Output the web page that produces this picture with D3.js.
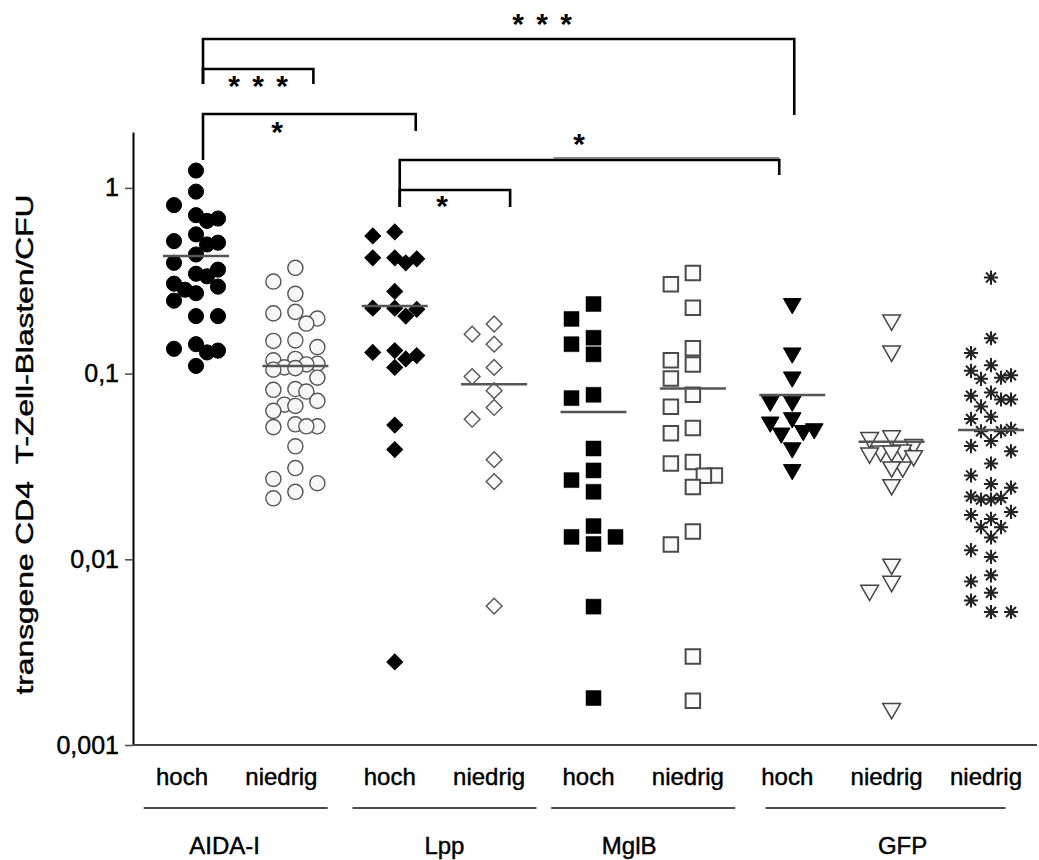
<!DOCTYPE html>
<html>
<head>
<meta charset="utf-8">
<script src="https://cdn.jsdelivr.net/npm/d3@7"></script>
<style>
  html, body { margin: 0; padding: 0; background: #fff; }
  svg { display: block; font-family: "Liberation Sans", Arial, Helvetica, sans-serif; }
  .lbl { stroke: #000; stroke-width: 0.45px; }
</style>
</head>
<body>
<svg id="chart" width="1039" height="860"></svg>
<script>
// ---- data -------------------------------------------------------------
const categories = ["AIDA-I hoch", "AIDA-I niedrig", "Lpp hoch", "Lpp niedrig",
                    "MglB hoch", "MglB niedrig", "GFP hoch", "GFP niedrig", "GFP niedrig 2"];
const categoryLabels = ["hoch", "niedrig", "hoch", "niedrig", "hoch", "niedrig", "hoch", "niedrig", "niedrig"];
const groupNames = ["AIDA-I", "Lpp", "MglB", "GFP"];
const groupMembers = [[0, 1], [2, 3], [4, 5], [6, 7, 8]];

const aidaHoch = [1.24, 0.955, 0.808, 0.713, 0.664, 0.684, 0.562, 0.517, 0.496, 0.507, 0.438,
                  0.395, 0.345, 0.363, 0.334, 0.305, 0.283, 0.294, 0.271, 0.247, 0.204, 0.204,
                  0.133, 0.144, 0.136, 0.130, 0.110];
const aidaNiedrig = [0.371, 0.313, 0.269, 0.211, 0.215, 0.198, 0.186, 0.150, 0.151, 0.139,
                     0.120, 0.118, 0.113, 0.112, 0.107, 0.108, 0.105, 0.095, 0.0826, 0.080, 0.0818,
                     0.0713, 0.063, 0.068, 0.067, 0.052, 0.0515, 0.0533, 0.052, 0.0406,
                     0.031, 0.0271, 0.0257, 0.0231, 0.0213];
const lppHoch = [0.579, 0.551, 0.42, 0.395, 0.42, 0.415, 0.277, 0.225, 0.204, 0.225, 0.222,
                 0.130, 0.120, 0.108, 0.133, 0.125, 0.0528, 0.039, 0.0028];
const lppNiedrig = [0.185, 0.163, 0.144, 0.108, 0.0964, 0.0809, 0.0657, 0.0568, 0.0344, 0.0262, 0.0056];
const mglbHoch = [0.237, 0.197, 0.156, 0.144, 0.127, 0.0769, 0.0738, 0.0395, 0.0301, 0.0267,
                  0.0231, 0.0151, 0.0132, 0.0132, 0.0121, 0.00556, 0.00179];
const mglbNiedrig = [0.348, 0.303, 0.226, 0.137, 0.118, 0.112, 0.094, 0.0769, 0.0662, 0.051,
                     0.0478, 0.0328, 0.0334, 0.0283, 0.0282, 0.0245, 0.0141, 0.012, 0.0030, 0.00173];
const gfpHoch = [0.238, 0.129, 0.0958, 0.071, 0.071, 0.0578, 0.0548, 0.0493, 0.0478, 0.0504,
                 0.0398, 0.0304];
const gfpNiedrig = [0.194, 0.132, 0.0462, 0.0452, 0.0415, 0.0382, 0.0387, 0.0361, 0.0382,
                    0.0373, 0.0314, 0.0314, 0.0252, 0.0094, 0.0076, 0.0068, 0.00157];
const gfpNiedrig2 = [0.329, 0.155, 0.129, 0.111, 0.1035, 0.095, 0.0937, 0.098, 0.0725, 0.079,
                     0.076, 0.0725, 0.0666, 0.0585, 0.057, 0.0504, 0.0489, 0.0489, 0.0433,
                     0.0407, 0.0382, 0.0328, 0.0283, 0.0243, 0.0254, 0.0218, 0.0214, 0.021,
                     0.021, 0.018, 0.0173, 0.0165, 0.0149, 0.0149, 0.0131, 0.0112, 0.0103,
                     0.0082, 0.0076, 0.0066, 0.0060, 0.0052, 0.0052];
const seriesValues = [aidaHoch, aidaNiedrig, lppHoch, lppNiedrig, mglbHoch, mglbNiedrig,
                      gfpHoch, gfpNiedrig, gfpNiedrig2];
// central value per column (horizontal bar)
const centerValues = [0.43, 0.110, 0.231, 0.0875, 0.0622, 0.0832, 0.0767, 0.043, 0.0497];

const yTickValues = [1, 0.1, 0.01, 0.001];
const yTickLabels = ["1", "0,1", "0,01", "0,001"];
const yTitle = "transgene CD4  T-Zell-Blasten/CFU";

// ---- layout -----------------------------------------------------------
const svg = d3.select("#chart");
const plotLeft = 133, plotRight = 1037, plotTop = 132, plotBottom = 745;

const x = d3.scalePoint().domain(categories).range([196, 991]);
const y = d3.scaleLog().domain([0.001, 2]).range([plotBottom, plotTop]);

// marker styles per column
const starSymbol = {
  draw(ctx, size) {
    const r = Math.sqrt(size) / 2;
    for (let k = 0; k < 4; k++) {
      const a = k * Math.PI / 4;
      ctx.moveTo(-r * Math.cos(a), -r * Math.sin(a));
      ctx.lineTo(r * Math.cos(a), r * Math.sin(a));
    }
  }
};
const styles = [
  { type: d3.symbolCircle,   size: 180, rot: 0,   fill: "#000", stroke: "#000", sw: 1 },
  { type: d3.symbolCircle,   size: 180, rot: 0,   fill: "#f7f7f7", stroke: "#555", sw: 1.4 },
  { type: d3.symbolSquare,   size: 125, rot: 45,  fill: "#000", stroke: "#000", sw: 1 },
  { type: d3.symbolSquare,   size: 125, rot: 45,  fill: "#fafafa", stroke: "#555", sw: 1.4 },
  { type: d3.symbolSquare,   size: 225, rot: 0,   fill: "#000", stroke: "#000", sw: 0.5 },
  { type: d3.symbolSquare,   size: 210, rot: 0,   fill: "#fafafa", stroke: "#4a4a4a", sw: 2 },
  { type: d3.symbolTriangle, size: 135, rot: 180, fill: "#000", stroke: "#000", sw: 1 },
  { type: d3.symbolTriangle, size: 135, rot: 180, fill: "#f7f7f7", stroke: "#444", sw: 1.5 },
  { type: starSymbol,        size: 200, rot: 0,   fill: "none", stroke: "#222", sw: 2 }
];

// horizontal spreading of points with similar values into five lanes
function swarm(values, laneW, minGap) {
  const order = values.map(v => ({ v })).sort((a, b) => b.v - a.v);
  const lanes = [0, -2, 2, 1, -1];
  const placed = [];
  order.forEach(o => {
    const py = y(o.v);
    const clearance = l => d3.min(placed.filter(p => p.lane === l), p => Math.abs(p.py - py)) ?? Infinity;
    let lane = lanes.find(l => clearance(l) >= minGap);
    if (lane === undefined) lane = lanes.reduce((a, b) => clearance(b) > clearance(a) ? b : a);
    placed.push({ v: o.v, py, lane, dx: lane * laneW });
  });
  return placed;
}

// ---- axes -------------------------------------------------------------
const yAxis = d3.axisLeft(y)
  .tickValues(yTickValues)
  .tickFormat((d, i) => yTickLabels[i])
  .tickSize(8)
  .tickSizeOuter(0)
  .tickPadding(6);
const gy = svg.append("g").attr("transform", `translate(${plotLeft},0)`).call(yAxis);
gy.select(".domain").attr("stroke", "#000").attr("stroke-width", 2);
gy.selectAll(".tick line").attr("stroke", "#555").attr("stroke-width", 1.6);
gy.selectAll(".tick text").attr("font-size", 25).attr("fill", "#000").attr("class", "lbl")
  .attr("font-family", "Liberation Sans, Arial, sans-serif");

// x baseline
svg.append("line")
  .attr("x1", plotLeft).attr("x2", plotRight)
  .attr("y1", plotBottom).attr("y2", plotBottom)
  .attr("stroke", "#444").attr("stroke-width", 2);

// y title
svg.append("text")
  .attr("class", "lbl")
  .attr("transform", `translate(33,${(plotTop + plotBottom) / 2 + 6}) rotate(-90)`)
  .attr("text-anchor", "middle")
  .attr("font-size", 24)
  .attr("textLength", 500)
  .attr("lengthAdjust", "spacingAndGlyphs")
  .style("white-space", "pre")
  .text(yTitle);

// ---- points -----------------------------------------------------------
seriesValues.forEach((vals, ci) => {
  const st = styles[ci];
  const pts = swarm(vals, ci === 8 ? 10 : 11, 16);
  const sym = d3.symbol().type(st.type).size(st.size);
  const cx = x(categories[ci]);
  svg.append("g").selectAll("path")
    .data(pts)
    .join("path")
    .attr("d", sym)
    .attr("transform", d => `translate(${cx + d.dx},${d.py}) rotate(${st.rot})`)
    .attr("fill", st.fill)
    .attr("stroke", st.stroke)
    .attr("stroke-width", st.sw);
});

// central value bars
svg.append("g").selectAll("line")
  .data(centerValues)
  .join("line")
  .attr("x1", (d, i) => x(categories[i]) - 33)
  .attr("x2", (d, i) => x(categories[i]) + 33)
  .attr("y1", d => y(d)).attr("y2", d => y(d))
  .attr("stroke", "#555").attr("stroke-width", 2.5);

// ---- category and group labels ----------------------------------------
svg.append("g").selectAll("text")
  .data(categoryLabels)
  .join("text")
  .attr("class", "lbl")
  .attr("x", (d, i) => x(categories[i]) - (i < 2 ? 14 : 5))
  .attr("y", 785)
  .attr("text-anchor", "middle")
  .attr("font-size", 24)
  .text(d => d);

const groupCenter = m => d3.mean(m, i => x(categories[i]));
const groupHalf = m => m.length > 2 ? 120 : 92;
const groupShift = m => m[0] === 0 ? -10 : (m.length > 2 ? -6 : 0);
svg.append("g").selectAll("line")
  .data(groupMembers)
  .join("line")
  .attr("x1", m => groupCenter(m) + groupShift(m) - groupHalf(m))
  .attr("x2", m => groupCenter(m) + groupShift(m) + groupHalf(m))
  .attr("y1", 808).attr("y2", 808)
  .attr("stroke", "#111").attr("stroke-width", 1.6);

svg.append("g").selectAll("text")
  .data(groupNames)
  .join("text")
  .attr("class", "lbl")
  .attr("x", (d, i) => groupCenter(groupMembers[i]) + [-21, 0, -14, 11][i])
  .attr("y", 854)
  .attr("text-anchor", "middle")
  .attr("font-size", 24)
  .text(d => d);

// ---- significance brackets --------------------------------------------
// from / to: column index; dx: horizontal nudge; bar: bar height; ends: lower ends of the legs
const brackets = [
  { from: 0, to: 6, dx0: 7, dx1: 2,   bar: 39,  end0: 84,  end1: 115, stars: 3, sx: 542, sy: 18 },
  { from: 0, to: 1, dx0: 7, dx1: 18,  bar: 69,  end0: 84,  end1: 84,  stars: 3, sx: 258, sy: 80 },
  { from: 0, to: 2, dx0: 7, dx1: 21,  bar: 114, end0: 160, end1: 131, stars: 1, sx: 277, sy: 126 },
  { from: 2, to: 6, dx0: 5, dx1: -13, bar: 160, end0: 207, end1: 175, stars: 1, sx: 579, sy: 138 },
  { from: 2, to: 3, dx0: 5, dx1: 16,  bar: 190, end0: 207, end1: 207, stars: 1, sx: 442, sy: 200 }
];
const gb = svg.append("g").attr("fill", "none").attr("stroke", "#000").attr("stroke-width", 2.6);
brackets.forEach(b => {
  const x0 = x(categories[b.from]) + b.dx0;
  const x1 = x(categories[b.to]) + b.dx1;
  gb.append("path")
    .attr("d", `M${x0},${b.end0}V${b.bar}H${x1}V${b.end1}`);
  for (let k = 0; k < b.stars; k++) {
    svg.append("text")
      .attr("x", b.sx + (k - (b.stars - 1) / 2) * 24)
      .attr("y", b.sy + 16)
      .attr("text-anchor", "middle")
      .attr("font-size", 30)
      .attr("font-weight", "bold")
      .text("*");
  }
});
// lighter overlay on the right half of the Lpp–GFP bar
svg.append("line")
  .attr("x1", (x(categories[2]) + x(categories[6])) / 2 - 40)
  .attr("x2", x(categories[6]) - 13)
  .attr("y1", 158).attr("y2", 158)
  .attr("stroke", "#666").attr("stroke-width", 1.5);
</script>
</body>
</html>
